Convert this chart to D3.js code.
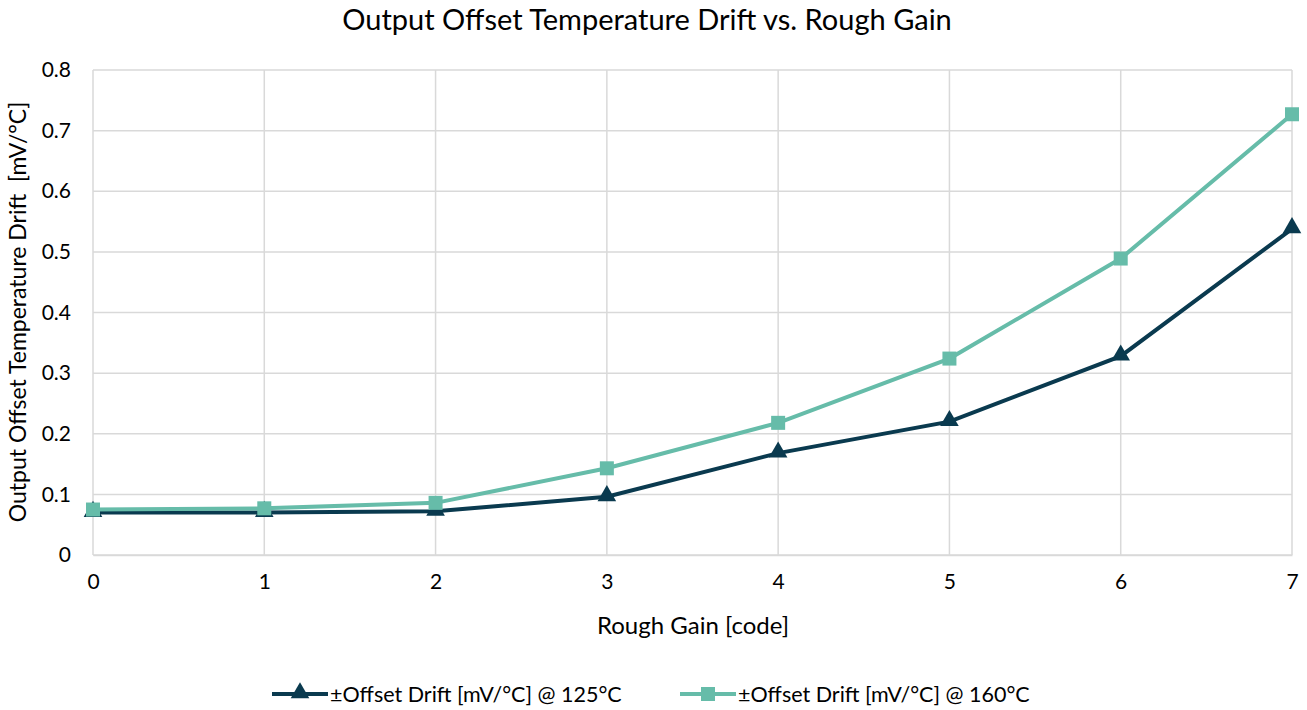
<!DOCTYPE html>
<html><head><meta charset="utf-8">
<script src="https://cdn.jsdelivr.net/npm/d3@7"></script>
<style>body{margin:0;background:#fff;} text{font-family:Lato,"Open Sans",sans-serif;fill:#000;}</style>
</head><body>
<svg id="c" width="1307" height="710"></svg>
<script>
const codes = [0,1,2,3,4,5,6,7];
const drift125 = [0.070,0.070,0.072,0.096,0.168,0.220,0.328,0.538];
const drift160 = [0.075,0.077,0.086,0.143,0.218,0.324,0.489,0.727];
const yTicks = [0,0.1,0.2,0.3,0.4,0.5,0.6,0.7,0.8];
const seriesNames = ["±Offset Drift [mV/°C] @ 125°C","±Offset Drift [mV/°C] @ 160°C"];
const colors = ["#0a3a4f","#66bca9"];

const svg = d3.select("#c");
const L=93,R=1292,T=70,B=555;
const x = d3.scaleLinear().domain([0,7]).range([L,R]);
const y = d3.scaleLinear().domain([0,0.8]).range([B,T]);

// grid
svg.append("g").selectAll("line.h").data(yTicks).join("line")
  .attr("x1",L).attr("x2",R).attr("y1",d=>y(d)).attr("y2",d=>y(d))
  .attr("stroke","#d9d9d9").attr("stroke-width",1.5);
svg.append("g").selectAll("line.v").data(codes).join("line")
  .attr("x1",d=>x(d)).attr("x2",d=>x(d)).attr("y1",T).attr("y2",B)
  .attr("stroke","#d9d9d9").attr("stroke-width",1.5);

// axes
const xa = svg.append("g").attr("transform",`translate(0,${B})`)
  .call(d3.axisBottom(x).tickValues(codes).tickSize(0).tickPadding(19).tickFormat(d3.format("d")));
xa.select(".domain").attr("stroke","#d9d9d9").attr("stroke-width",1.5);
xa.selectAll("text").style("font-size","21px");
const ya = svg.append("g").attr("transform",`translate(${L},0)`)
  .call(d3.axisLeft(y).tickValues(yTicks).tickSize(0).tickPadding(22).tickFormat(d=>d===0?"0":d3.format(".1f")(d)));
ya.select(".domain").remove();
ya.selectAll("text").style("font-size","21px");

// title & labels
svg.append("text").attr("x",647).attr("y",30).attr("text-anchor","middle").style("font-size","29px")
  .text("Output Offset Temperature Drift vs. Rough Gain");
svg.append("text").attr("x",693).attr("y",634).attr("text-anchor","middle").style("font-size","24px")
  .text("Rough Gain [code]");
svg.append("text").attr("transform","translate(26,312) rotate(-90)").attr("text-anchor","middle")
  .style("font-size","23px").style("white-space","pre")
  .text("Output Offset Temperature Drift  [mV/°C]");

const line = d3.line().x((d,i)=>x(codes[i])).y(d=>y(d));
const tri = d3.symbol().type(d3.symbolTriangle).size(150);
[drift125,drift160].forEach((s,k)=>{
  svg.append("path").attr("d",line(s)).attr("fill","none").attr("stroke",colors[k]).attr("stroke-width",4);
  const g = svg.append("g");
  if(k===0){
    g.selectAll("path").data(s).join("path").attr("d",tri)
      .attr("transform",(d,i)=>`translate(${x(codes[i])},${y(d)-1})`).attr("fill",colors[k]);
  } else {
    g.selectAll("rect").data(s).join("rect")
      .attr("x",(d,i)=>x(codes[i])-7).attr("y",d=>y(d)-7).attr("width",14).attr("height",14).attr("fill",colors[k]);
  }
});

// legend
const lg = svg.append("g");
const lx = [272,680];
seriesNames.forEach((n,k)=>{
  const cy=694;
  lg.append("line").attr("x1",lx[k]).attr("x2",lx[k]+56).attr("y1",cy).attr("y2",cy).attr("stroke",colors[k]).attr("stroke-width",4);
  if(k===0) lg.append("path").attr("d",tri).attr("transform",`translate(${lx[k]+28},${cy-1})`).attr("fill",colors[k]);
  else lg.append("rect").attr("x",lx[k]+21).attr("y",cy-7).attr("width",14).attr("height",14).attr("fill",colors[k]);
  lg.append("text").attr("x",lx[k]+58).attr("y",cy+8).style("font-size","21.5px").text(n);
});
</script>
</body></html>
